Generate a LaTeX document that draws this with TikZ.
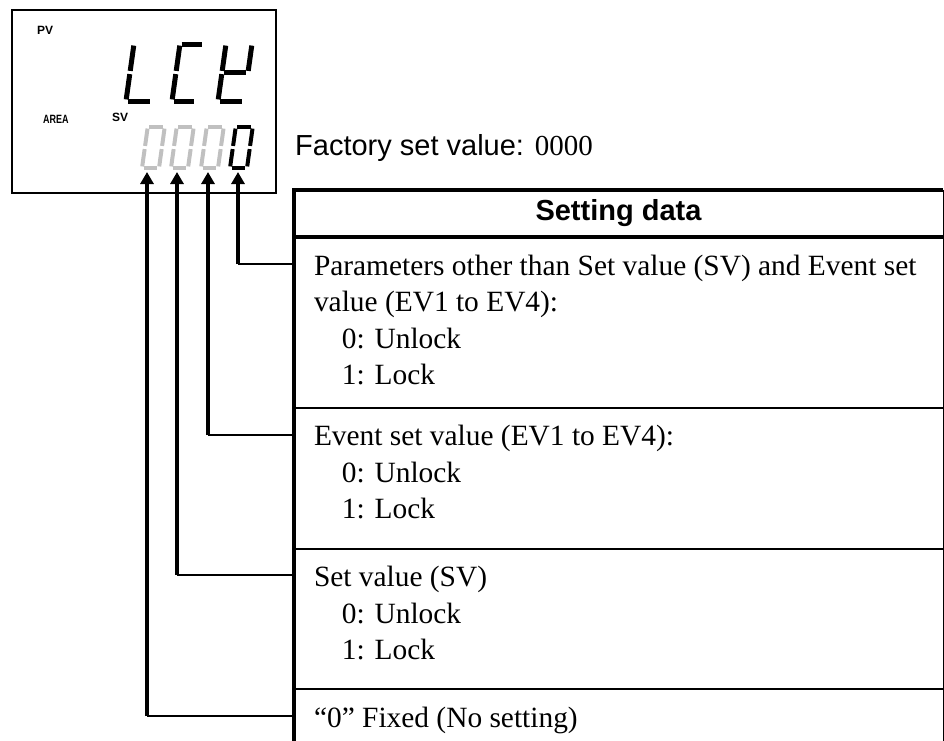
\documentclass[tikz,border=0pt]{standalone}
\usepackage{fontspec}
\setmainfont{Liberation Serif}
\setsansfont{Liberation Sans}
\usepackage{graphicx}
\usetikzlibrary{arrows.meta,positioning}
\definecolor{inkclr}{RGB}{0,0,0}
\definecolor{segoff}{RGB}{192,192,192}
\tikzset{
  %% lcd frame and its small captions
  lcdbox/.style={draw=inkclr,line width=1.5pt},
  lcdlbl/.style={font=\sffamily\bfseries\fontsize{12}{12}\selectfont,
    inner sep=0pt,anchor=north west},
  %% segment strokes
  segstroke/.style={line cap=butt,shorten <=1.6pt,shorten >=1.6pt},
  bigseg/.style={draw=inkclr,line width=5pt},
  onseg/.style={draw=inkclr,line width=4pt},
  offseg/.style={draw=segoff,line width=4pt},
  %% table cells
  cell/.style={rectangle,minimum width=649pt,inner sep=0pt},
  hdrtxt/.style={font=\sffamily\bfseries\fontsize{29}{35}\selectfont},
  rowtxt/.style={font=\fontsize{29.4}{36.5}\selectfont,align=left,inner sep=0pt},
  tblthick/.style={line width=3.5pt,draw=inkclr},
  tblrule/.style={line width=2pt,draw=inkclr},
  tblthin/.style={line width=1.2pt,draw=inkclr},
  %% connectors
  ptr/.style={-{Triangle[length=12pt,width=13pt]},line width=3.5pt,draw=inkclr},
  lnk/.style={line width=1.5pt,draw=inkclr},
}
%% one slanted seven segment character: name, x, y (bottom), w, h, style, strokes
\newcommand{\segchar}[7]{%
  \begin{scope}[shift={(#2,#3)},xslant=0.14]
    \coordinate (#1tl) at (0,-#5);
    \coordinate (#1tr) at (#4,-#5);
    \coordinate (#1ml) at (0,-#5/2);
    \coordinate (#1mr) at (#4,-#5/2);
    \coordinate (#1bl) at (0,0);
    \coordinate (#1br) at (#4,0);
    \foreach \p/\q in {#7} \draw[segstroke,#6] (#1\p) -- (#1\q);
  \end{scope}}

\begin{document}
\begin{tikzpicture}[x=1pt,y=-1pt]
  \useasboundingbox (0,0) rectangle (944,740);

  %% lcd display
  \draw[lcdbox] (12,10) rectangle (276,193);
  \node[lcdlbl] (pv)   at (37,26)  {PV};
  \node[lcdlbl] (area) at (43,115) {\scalebox{0.75}[1]{AREA}};
  \node[lcdlbl] (sv)   at (112,113) {SV};

  \segchar{chl}{126}{101}{26}{57}{bigseg}{tl/ml,ml/bl,bl/br}
  \segchar{chc}{172}{101}{24}{57}{bigseg}{tl/tr,tl/ml,ml/bl,bl/br}
  \segchar{chk}{218}{101}{26}{57}{bigseg}{tl/ml,tr/mr,ml/mr,ml/bl,bl/br}

  \segchar{dga}{142}{168}{17}{41}{offseg}{tl/tr,tr/mr,mr/br,bl/br,ml/bl,tl/ml}
  \segchar{dgb}{171}{168}{17}{41}{offseg}{tl/tr,tr/mr,mr/br,bl/br,ml/bl,tl/ml}
  \segchar{dgc}{201}{168}{17}{41}{offseg}{tl/tr,tr/mr,mr/br,bl/br,ml/bl,tl/ml}
  \segchar{dgd}{230}{168}{17}{41}{onseg}{tl/tr,tr/mr,mr/br,bl/br,ml/bl,tl/ml}

  \node[anchor=base west,inner sep=0pt,font=\sffamily\fontsize{29}{35}\selectfont]
    (fsv) at (295,155) {Factory set value: {\rmfamily 0000}};

  %% setting data table
  \node[cell,hdrtxt,minimum height=47pt] (hdr) at (618.5,213.5) {Setting data};
  \node[cell,minimum height=170pt,below=0pt of hdr]  (row1) {};
  \node[cell,minimum height=140.5pt,below=0pt of row1] (row2) {};
  \node[cell,minimum height=140.5pt,below=0pt of row2] (row3) {};
  \node[cell,minimum height=60pt,below=0pt of row3]  (row4) {};

  \node[rowtxt,below right=12.5pt and 20pt of row1.north west] (txa)
    {\strut Parameters other than Set value (SV) and Event set\\
     value (EV1 to EV4):\\\hspace*{0.95em}0: Unlock\\\hspace*{0.95em}1: Lock};
  \node[rowtxt,below right=12.5pt and 20pt of row2.north west] (txb)
    {\strut Event set value (EV1 to EV4):\\\hspace*{0.95em}0: Unlock\\\hspace*{0.95em}1: Lock};
  \node[rowtxt,below right=12.5pt and 20pt of row3.north west] (txc)
    {\strut Set value (SV)\\\hspace*{0.95em}0: Unlock\\\hspace*{0.95em}1: Lock};
  \node[rowtxt,below right=12.5pt and 20pt of row4.north west] (txd)
    {\strut “0” Fixed (No setting)};

  \draw[tblthick] (hdr.north east) -- (hdr.north west) -- (row4.south west);
  \draw[tblthick] (hdr.south west) -- (hdr.south east);
  \draw[tblthin]  (hdr.north east) -- (row4.south east);
  \draw[tblrule]  (row1.south west) -- (row1.south east);
  \draw[tblrule]  (row2.south west) -- (row2.south east);
  \draw[tblrule]  (row3.south west) -- (row3.south east);

  %% digit pointers
  \coordinate (tipa) at (147,172);
  \coordinate (tipb) at (177,172);
  \coordinate (tipc) at (208,172);
  \coordinate (tipd) at (238,172);
  \coordinate (jd) at (238,264);
  \coordinate (jc) at (208,435);
  \coordinate (jb) at (177,575);
  \coordinate (ja) at (147,716);

  \draw[lnk] (jd) -- (jd -| row1.west);
  \draw[lnk] (jc) -- (jc -| row2.west);
  \draw[lnk] (jb) -- (jb -| row3.west);
  \draw[lnk] (ja) -- (ja -| row4.west);
  \draw[ptr] (jd) -- (tipd);
  \draw[ptr] (jc) -- (tipc);
  \draw[ptr] (jb) -- (tipb);
  \draw[ptr] (ja) -- (tipa);

\end{tikzpicture}
\end{document}
